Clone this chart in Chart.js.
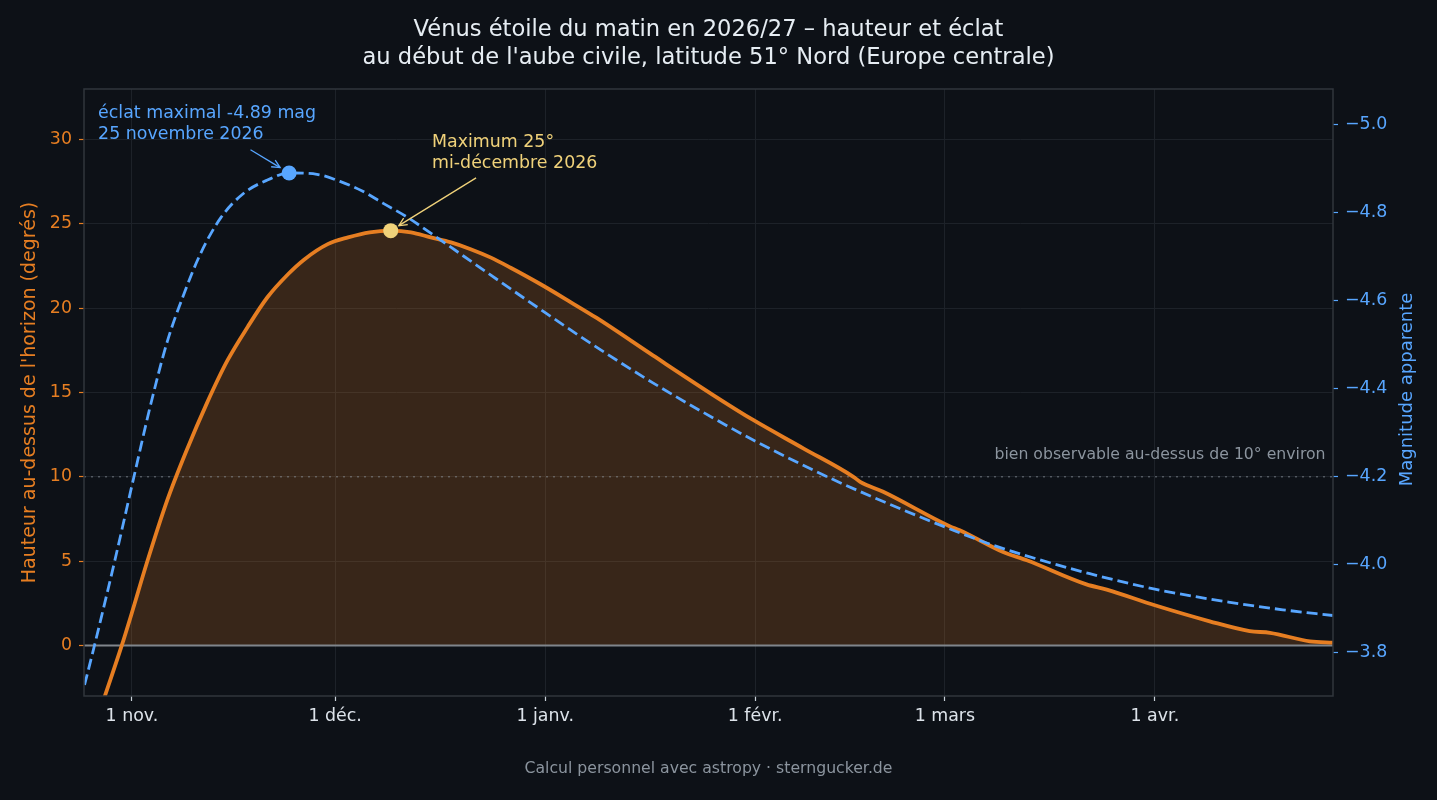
<!DOCTYPE html>
<html>
<head>
<meta charset="utf-8">
<script src="https://cdn.jsdelivr.net/npm/chart.js@4.4.1/dist/chart.umd.min.js"></script>
<style>
  html, body { margin: 0; padding: 0; background: #0d1117; }
  #wrap { width: 1437px; height: 800px; position: relative; }
</style>
</head>
<body>
<div id="wrap"><canvas id="c"></canvas></div>
<script>
// ---------- texts ----------
const titleLines = [
  "Vénus étoile du matin en 2026/27 – hauteur et éclat",
  "au début de l'aube civile, latitude 51° Nord (Europe centrale)"
];
const footerText = "Calcul personnel avec astropy · sterngucker.de";
const leftAxisTitle = "Hauteur au-dessus de l'horizon (degrés)";
const rightAxisTitle = "Magnitude apparente";
const brightNote = ["éclat maximal -4.89 mag", "25 novembre 2026"];
const altNote = ["Maximum 25°", "mi-décembre 2026"];
const thresholdNote = "bien observable au-dessus de 10° environ";

// ---------- axes (x = days after 1 Nov 2026) ----------
const xMin = -7.08, xMax = 177.3;
const monthTicks = [0, 30, 61, 92, 120, 151];
const monthLabels = ["1 nov.", "1 déc.", "1 janv.", "1 févr.", "1 mars", "1 avr."];
const altTicks = [0, 5, 10, 15, 20, 25, 30];
const magTicks = [-5.0, -4.8, -4.6, -4.4, -4.2, -4.0, -3.8];

// ---------- data ----------
const altDays = [-7, -4, -1.5, 0, 2.2, 5.2, 8, 11.1, 14.1, 17.1, 20, 23, 25.4, 28.9, 31.9, 35.1, 38.2, 41.2, 44.1, 47.1, 50, 53, 55.9, 60.2, 64.8, 68.6, 76.9, 85.8, 91.7, 99.1, 106.5, 107.5, 110.9, 120.7, 122.2, 128.6, 132.1, 140.9, 143.9, 151, 159.1, 165, 168, 173.9, 177.3];
const altValues = [-6.6, -3.0, 0, 1.95, 4.9, 8.6, 11.5, 14.4, 16.9, 18.9, 20.65, 22.0, 22.88, 23.8, 24.2, 24.5, 24.6, 24.5, 24.2, 23.9, 23.5, 23.0, 22.4, 21.45, 20.35, 19.42, 17.2, 14.85, 13.37, 11.69, 10.0, 9.70, 9.11, 7.07, 6.83, 5.54, 5.05, 3.62, 3.31, 2.38, 1.43, 0.85, 0.75, 0.24, 0.16];

const magDays = [-7, -5.5, -2.5, 0.3, 2.8, 5.2, 7.7, 10.1, 13.1, 16.5, 20, 23.2, 27.3, 30.7, 34, 37.1, 40.5, 44.5, 52.4, 60.2, 68.1, 76.9, 85.8, 91.7, 102, 109.4, 121.7, 127.1, 135.5, 141.4, 151, 162.1, 169.9, 177.3];
const magValues = [-3.725, -3.817, -4.010, -4.199, -4.365, -4.505, -4.615, -4.705, -4.787, -4.843, -4.873, -4.889, -4.886, -4.870, -4.848, -4.820, -4.790, -4.748, -4.663, -4.580, -4.498, -4.412, -4.332, -4.282, -4.203, -4.152, -4.074, -4.043, -4.003, -3.978, -3.943, -3.913, -3.896, -3.883];

const peakAltDay = [38.2], peakAltValue = [24.6];
const peakMagDay = [23.2], peakMagValue = [-4.889];
const thresholdAlt = 10;

// ---------- colours ----------
const BG = "#0d1117", ORANGE = "#e67e22", BLUE = "#58a6ff", YELLOW = "#f0d27a";
const TEXT = "#e6edf3", MUTED = "#8b949e", GRID = "#1d2229", FRAME = "#30363d";
const FONT = "'DejaVu Sans', sans-serif";
Chart.defaults.font.family = FONT;

function arrow(ctx, x0, y0, x1, y1, color) {
  ctx.strokeStyle = color; ctx.lineWidth = 1.3;
  ctx.beginPath(); ctx.moveTo(x0, y0); ctx.lineTo(x1, y1); ctx.stroke();
  const a = Math.atan2(y1 - y0, x1 - x0), L = 9, w = 0.45;
  ctx.beginPath();
  ctx.moveTo(x1 - L * Math.cos(a - w), y1 - L * Math.sin(a - w));
  ctx.lineTo(x1, y1);
  ctx.lineTo(x1 - L * Math.cos(a + w), y1 - L * Math.sin(a + w));
  ctx.stroke();
}
function towards(x0, y0, x1, y1, shrink) {
  const dx = x1 - x0, dy = y1 - y0, d = Math.hypot(dx, dy);
  return [x1 - dx / d * shrink, y1 - dy / d * shrink];
}

const decor = {
  id: "decor",
  beforeDraw(chart) {
    const { ctx } = chart;
    ctx.save(); ctx.fillStyle = BG; ctx.fillRect(0, 0, chart.width, chart.height); ctx.restore();
  },
  beforeDatasetsDraw(chart) {
    const { ctx, chartArea: ca, scales: { y } } = chart;
    ctx.save();
    const yt = y.getPixelForValue(thresholdAlt);
    ctx.strokeStyle = "rgba(139,148,158,0.5)"; ctx.lineWidth = 1.5; ctx.setLineDash([2, 5]);
    ctx.beginPath(); ctx.moveTo(ca.left, yt); ctx.lineTo(ca.right, yt); ctx.stroke();
    ctx.setLineDash([]);
    const y0 = y.getPixelForValue(0);
    ctx.strokeStyle = "#80858c"; ctx.lineWidth = 2;
    ctx.beginPath(); ctx.moveTo(ca.left, y0); ctx.lineTo(ca.right, y0); ctx.stroke();
    ctx.restore();
  },
  afterDatasetsDraw(chart) {
    const { ctx, chartArea: ca, scales: { x, y, y2 } } = chart;
    ctx.save();
    ctx.strokeStyle = FRAME; ctx.lineWidth = 1.5;
    ctx.strokeRect(ca.left, ca.top, ca.right - ca.left, ca.bottom - ca.top);

    ctx.font = "17.4px " + FONT; ctx.textBaseline = "middle"; ctx.textAlign = "left";
    ctx.fillStyle = BLUE;
    const bx = x.getPixelForValue(-5.0), by = y.getPixelForValue(31.55);
    brightNote.forEach((t, i) => ctx.fillText(t, bx, by + i * 21));
    const mx = x.getPixelForValue(peakMagDay[0]), my = y2.getPixelForValue(peakMagValue[0]);
    const tbx = x.getPixelForValue(17.5), tby = y.getPixelForValue(29.4);
    const hb = towards(tbx, tby, mx, my, 10.5);
    arrow(ctx, tbx, tby, hb[0], hb[1], BLUE);

    ctx.fillStyle = YELLOW;
    const ax = x.getPixelForValue(44.3), ay = y.getPixelForValue(29.8);
    altNote.forEach((t, i) => ctx.fillText(t, ax, ay + i * 21));
    const px = x.getPixelForValue(peakAltDay[0]), py = y.getPixelForValue(peakAltValue[0]);
    const tax = x.getPixelForValue(50.8), tay = y.getPixelForValue(27.73);
    const ha = towards(tax, tay, px, py, 9.5);
    arrow(ctx, tax, tay, ha[0], ha[1], YELLOW);

    ctx.font = "15.7px " + FONT; ctx.fillStyle = MUTED; ctx.textAlign = "right";
    ctx.fillText(thresholdNote, x.getPixelForValue(176.2), y.getPixelForValue(11.3));
    ctx.restore();
  },
  afterDraw(chart) {
    // right axis title, reading bottom-to-top like the reference
    const { ctx, chartArea: ca, scales: { y2 } } = chart;
    ctx.save();
    ctx.font = "18px " + FONT; ctx.fillStyle = BLUE;
    ctx.textAlign = "center"; ctx.textBaseline = "middle";
    ctx.translate(y2.right - 30, (ca.top + ca.bottom) / 2 - 3);
    ctx.rotate(-Math.PI / 2);
    ctx.fillText(rightAxisTitle, 0, 0);
    ctx.restore();
  }
};

new Chart(document.getElementById("c"), {
  type: "line",
  data: {
    datasets: [
      {
        label: "max éclat", type: "line", showLine: false,
        data: peakMagDay.map((d, i) => ({ x: d, y: peakMagValue[i] })),
        yAxisID: "y2", pointRadius: 7.5, pointBackgroundColor: BLUE, pointBorderWidth: 0, order: 0
      },
      {
        label: "max hauteur", type: "line", showLine: false,
        data: peakAltDay.map((d, i) => ({ x: d, y: peakAltValue[i] })),
        yAxisID: "y", pointRadius: 7.5, pointBackgroundColor: YELLOW, pointBorderWidth: 0, order: 1
      },
      {
        label: "Magnitude", data: magDays.map((d, i) => ({ x: d, y: magValues[i] })),
        yAxisID: "y2", borderColor: BLUE, borderWidth: 2.8, borderDash: [11, 5],
        pointRadius: 0, fill: false, cubicInterpolationMode: "monotone", clip: 0, order: 2
      },
      {
        label: "Hauteur", data: altDays.map((d, i) => ({ x: d, y: altValues[i] })),
        yAxisID: "y", borderColor: ORANGE, borderWidth: 3.8, pointRadius: 0,
        fill: { target: { value: 0 }, above: "rgba(230,126,34,0.2)", below: "rgba(0,0,0,0)" },
        cubicInterpolationMode: "monotone", clip: 0, order: 3
      }
    ]
  },
  options: {
    responsive: true, maintainAspectRatio: false, animation: false,
    layout: { padding: 0 },
    plugins: {
      legend: { display: false },
      tooltip: { enabled: false },
      filler: { drawTime: "beforeDatasetsDraw" },
      title: {
        display: true, fullSize: false, text: titleLines, color: TEXT,
        font: { size: 22.6, weight: "normal", lineHeight: 1.24 },
        padding: { top: 16, bottom: 16.95 }
      },
      subtitle: {
        display: true, fullSize: false, position: "bottom", text: footerText, color: MUTED,
        font: { size: 15.7, weight: "normal", lineHeight: 1.2 },
        padding: { top: 10, bottom: 21.6 }
      }
    },
    scales: {
      x: {
        type: "linear", position: "bottom", min: xMin, max: xMax,
        afterBuildTicks: s => { s.ticks = monthTicks.map(v => ({ value: v })); },
        afterFit: s => { s.height = 53.56; },
        ticks: {
          color: "#dde3ea", font: { size: 17.4 }, padding: 5, autoSkip: false, maxRotation: 0,
          callback: v => monthLabels[monthTicks.indexOf(v)]
        },
        grid: { color: GRID, lineWidth: 1, tickColor: "#c9d1d9", tickLength: 5, tickWidth: 1.2 },
        border: { display: false }
      },
      y: {
        type: "linear", position: "left", min: -3, max: 33,
        afterBuildTicks: s => { s.ticks = altTicks.map(v => ({ value: v })); },
        afterFit: s => { s.width = 84; },
        ticks: { color: ORANGE, font: { size: 17.4 }, padding: 7 },
        grid: { color: GRID, lineWidth: 1, tickColor: ORANGE, tickLength: 5, tickWidth: 1.2 },
        border: { display: false },
        title: { display: true, text: leftAxisTitle, color: ORANGE, font: { size: 19 }, padding: { top: 18.6, bottom: 0 } }
      },
      y2: {
        type: "linear", position: "right", min: -5.08, max: -3.70, reverse: true,
        afterBuildTicks: s => { s.ticks = magTicks.map(v => ({ value: v })); },
        afterFit: s => { s.width = 104; },
        ticks: {
          color: BLUE, font: { size: 17.4 }, padding: 7,
          callback: v => (v < 0 ? "\u2212" : "") + Math.abs(v).toFixed(1)
        },
        grid: { drawOnChartArea: false, tickColor: BLUE, tickLength: 5, tickWidth: 1.2 },
        border: { display: false },
        title: { display: false }
      }
    }
  },
  plugins: [decor]
});
</script>
</body>
</html>
